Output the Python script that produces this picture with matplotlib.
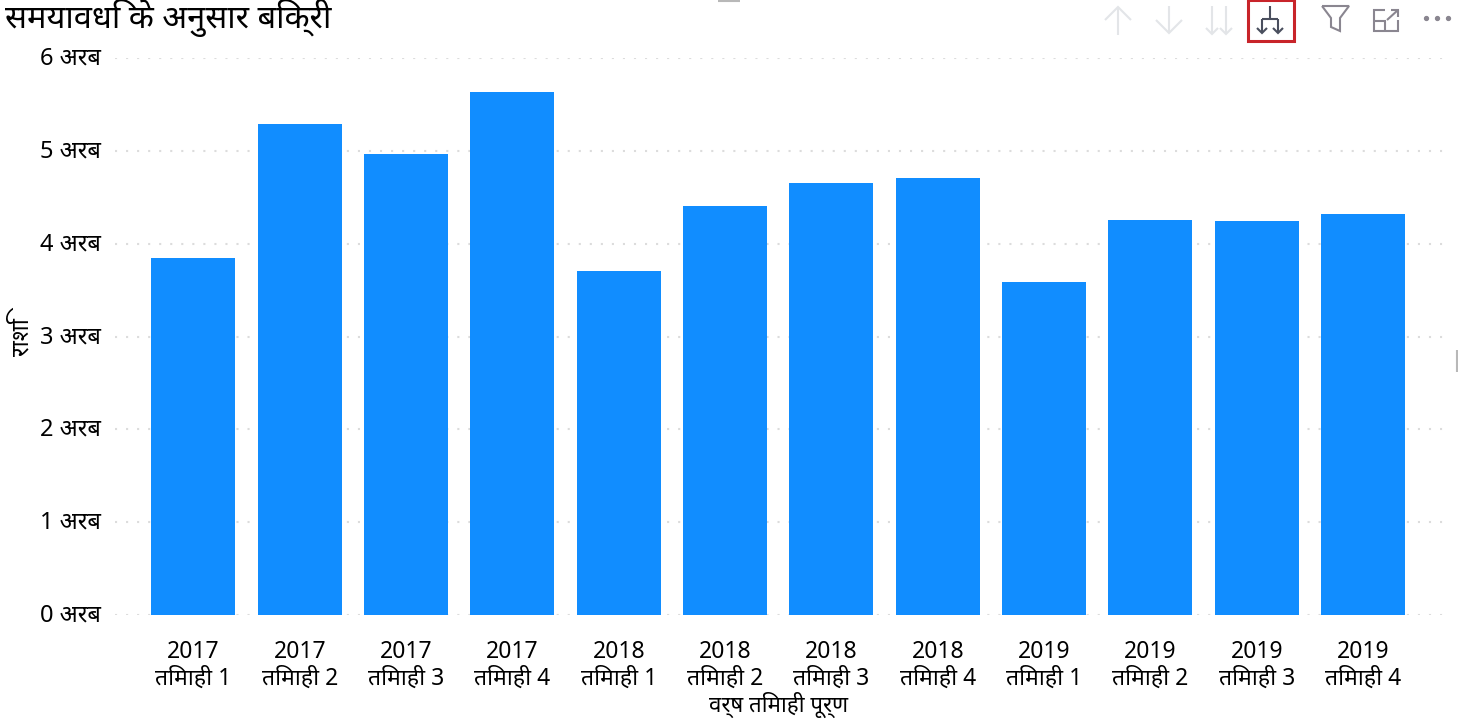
import matplotlib
matplotlib.use("Agg")
import matplotlib.pyplot as plt
from matplotlib.transforms import ScaledTranslation

plt.rcParams['font.family'] = ['Noto Sans', 'DejaVu Sans']

title = "समयावधि के अनुसार बिक्री"
y_title = "राशि"
x_title = "वर्ष तिमाही पूर्ण"
years = ["2017", "2017", "2017", "2017", "2018", "2018", "2018", "2018", "2019", "2019", "2019", "2019"]
quarters = ["तिमाही 1", "तिमाही 2", "तिमाही 3", "तिमाही 4"] * 3
sales = [3.85, 5.29, 4.97, 5.63, 3.71, 4.41, 4.65, 4.71, 3.59, 4.26, 4.24, 4.32]
y_ticks = [0, 1, 2, 3, 4, 5, 6]

fig = plt.figure(figsize=(14.58, 7.2), dpi=100)
ax = fig.add_axes([115/1458, 1-615/720, 1330/1458, (615-58)/720])
x = range(len(sales))
ax.bar(x, sales, width=0.79, color="#118DFF")
ax.set_xlim(-0.738, 11.77)
ax.set_ylim(0, 6)
ax.set_yticks(y_ticks)
ax.set_yticklabels(["{} अरब".format(t) for t in y_ticks], fontsize=17)
ax.set_xticks(list(x))
ax.set_xticklabels([a + "\n" + b for a, b in zip(years, quarters)], fontsize=16.5, linespacing=1.15)
ax.tick_params(axis="y", length=0, pad=10)
ax.tick_params(axis="x", length=0, pad=18)
ax.grid(axis="y", color="#dcdcdc", linestyle=(0, (1, 4.3)), linewidth=1.5)
ax.set_axisbelow(True)
for s in ax.spines.values():
    s.set_visible(False)

#y labels sit a little higher in the reference
for lab in ax.get_yticklabels():
    lab.set_transform(lab.get_transform() + ScaledTranslation(0, 2.5/100, fig.dpi_scale_trans))

fig.text(5/1458, 1-18/720, title, fontsize=23.5, va="center")
fig.text(22/1458, 1-337/720, y_title, fontsize=17, rotation=90, ha="center", va="center")
fig.text(779/1458, 1-705/720, x_title, fontsize=16, ha="center", va="center")

#toolbar icons, overlay axes in pixel coords
ui = fig.add_axes([0, 0, 1, 1], facecolor="none")
ui.set_xlim(0, 1458)
ui.set_ylim(720, 0)
ui.axis("off")

def line(xs, ys, color, lw=1.5):
    ui.plot(xs, ys, color=color, linewidth=lw, solid_capstyle="butt", solid_joinstyle="miter")

def arrow_down(cx, top, bottom, half, color, lw=1.5):
    line([cx, cx], [top, bottom], color, lw)
    line([cx-half, cx, cx+half], [bottom-half, bottom, bottom-half], color, lw)

faded = "#e3e5e8"
dark = "#4a4f5e"
grey = "#8a8690"

line([1118, 1118], [7, 35], faded)
line([1105, 1118, 1131], [20, 7, 20], faded)
arrow_down(1169, 6, 33, 13, faded)
arrow_down(1212, 6, 34, 6, faded)
arrow_down(1226, 6, 34, 6, faded)

#selected drill icon in red box
ui.add_patch(plt.Rectangle((1248, 0), 46, 41, fill=False, edgecolor="#c8242a", linewidth=2.2))
line([1270, 1270], [6, 19], dark)
line([1262, 1278], [19, 19], dark)
arrow_down(1262, 19, 33, 5, dark)
arrow_down(1278, 19, 33, 5, dark)

#filter
line([1322, 1349, 1340, 1340, 1331, 1331, 1322], [6, 6, 18, 31, 27, 18, 6], grey)
#focus mode
line([1385, 1374, 1374, 1398, 1398], [10, 10, 31, 31, 20], grey)
line([1374, 1385, 1385], [21, 21, 31], grey)
line([1387, 1398], [20, 10], grey)
line([1391, 1398, 1398], [10, 10, 17], grey)
#more menu
ui.plot([1426, 1437, 1448], [18, 18, 18], linestyle="none", marker="o", markersize=2.8, color=grey)

#resize handles at the visual edges
line([718, 740], [0.5, 0.5], "#b8b8b8", 1.5)
line([1457, 1457], [350, 372], "#b8b8b8", 1.5)

fig.savefig("out.png", dpi=100)
